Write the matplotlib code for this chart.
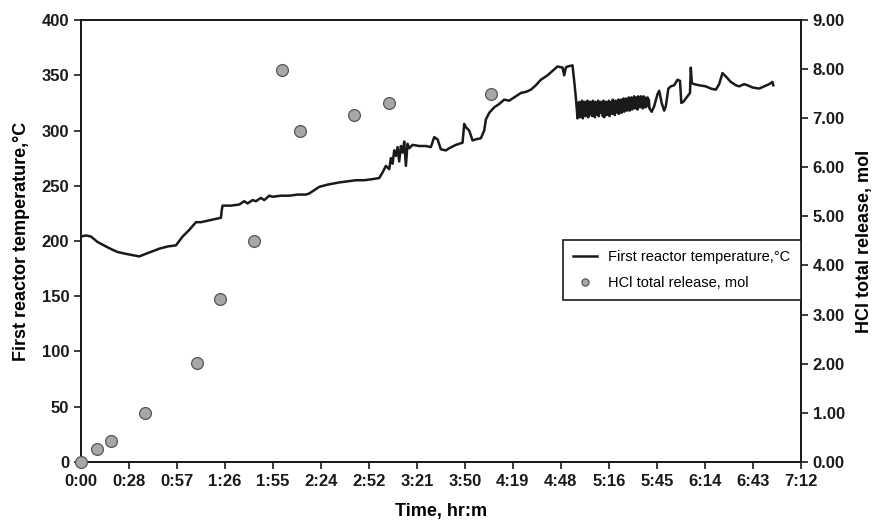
import matplotlib
matplotlib.use("Agg")
import matplotlib.pyplot as plt
import numpy as np

plt.rcParams['font.family'] = ['Liberation Sans', 'DejaVu Sans']

# reactor temperature before the drop, time in minutes
rise_time = [0, 3, 6, 10, 15, 19, 22, 28, 35, 40, 47, 52, 57, 61, 65, 69, 72, 78, 84, 84.5,
             85, 90, 95, 98, 100, 103, 105, 108, 110, 113, 115, 120, 125, 130, 135, 137, 140,
             143, 148, 155, 160, 165, 170, 175, 179,
             181, 183, 185, 186, 187, 188, 189, 190, 191, 192, 193, 194, 195, 196, 197, 199,
             203, 207, 210, 212, 214, 216, 219, 221, 225, 229, 230, 231, 233, 235, 237, 240,
             242, 243, 245, 248, 251, 254, 257, 261, 264, 267, 270, 273, 276, 280, 283, 286,
             289, 290, 291, 292, 295, 296, 297]
rise_temp = [204, 205, 204, 199, 195, 192, 190, 188, 186, 189, 193, 195, 196, 204, 210, 217, 217,
             219, 221, 228, 232, 232, 233, 236, 234, 237, 236, 239, 237, 241, 240, 241, 241, 242,
             242, 243, 246, 249, 251, 253, 254, 255, 255, 256, 257,
             262, 268, 265, 275, 270, 282, 277, 285, 272, 286, 280, 290, 268, 288, 284, 287, 286,
             286, 285, 294, 292, 283, 282, 284, 287, 289, 306, 303, 300, 291, 292, 293, 300, 310,
             316, 321, 324, 328, 327, 331, 334, 335, 337, 341, 346, 350, 354, 358, 357, 350, 357,
             358, 359, 345, 330]

# noisy stretch after the drop
band_time = [298.0, 298.4, 298.8, 299.2, 299.6, 300.0, 300.4, 300.8, 301.2, 301.6, 302.0,
             302.4, 302.8, 303.2, 303.6, 304.0, 304.4, 304.8, 305.2, 305.6, 306.0, 306.4,
             306.8, 307.2, 307.6, 308.0, 308.4, 308.8, 309.2, 309.6, 310.0, 310.4, 310.8,
             311.2, 311.6, 312.0, 312.4, 312.8, 313.2, 313.6, 314.0, 314.4, 314.8, 315.2,
             315.6, 316.0, 316.4, 316.8, 317.2, 317.6, 318.0, 318.4, 318.8, 319.2, 319.6,
             320.0, 320.4, 320.8, 321.2, 321.6, 322.0, 322.4, 322.8, 323.2, 323.6, 324.0,
             324.4, 324.8, 325.2, 325.6, 326.0, 326.4, 326.8, 327.2, 327.6, 328.0, 328.4,
             328.8, 329.2, 329.6, 330.0, 330.4, 330.8, 331.2, 331.6, 332.0, 332.4, 332.8,
             333.2, 333.6, 334.0, 334.4, 334.8, 335.2, 335.6, 336.0, 336.4, 336.8, 337.2,
             337.6, 338.0, 338.4, 338.8, 339.2, 339.6, 340.0, 340.4, 340.8, 341.2]
band_temp = [311, 325, 313, 326, 312, 324, 314, 327, 311, 325, 315, 326, 313, 324, 316, 327,
             312, 325, 314, 326, 316, 323, 313, 327, 315, 325, 312, 326, 317, 324, 314, 327,
             313, 325, 316, 326, 318, 324, 313, 327, 312, 325, 316, 326, 314, 324, 317, 327,
             313, 325, 316, 326, 315, 328, 317, 325, 314, 327, 318, 326, 316, 328, 315, 326,
             318, 328, 316, 327, 319, 329, 317, 327, 320, 329, 318, 328, 320, 330, 318, 327,
             321, 330, 319, 329, 321, 331, 320, 329, 322, 330, 319, 331, 322, 329, 321, 331,
             323, 330, 320, 331, 324, 330, 321, 329, 323, 330, 322, 328, 320]

# last part of the run
tail_time = [342.5, 344, 346, 347, 348.5, 350, 351, 352.5, 354, 356, 358, 359.5, 360.3,
             361.5, 363.5, 365.5, 366, 366.6, 368, 371, 375, 378, 381, 383, 385, 387, 390,
             393, 395, 398, 400, 403, 407, 410, 413, 415, 415.5]
tail_temp = [317, 322, 333, 336, 325, 318, 322, 338, 340, 341, 346, 345, 325,
             326, 330, 334, 357, 343, 342, 341, 340, 338, 337, 342, 352, 349, 344,
             341, 340, 342, 341, 339, 338, 340, 342, 344, 341]

# HCl total release, time in minutes
hcl_time = [0, 9.8, 18, 38.3, 69.7, 83.3, 103.9, 120.8, 131.2, 163.8, 185.1, 246]
hcl_mol = [0, 0.27, 0.43, 0.99, 2.02, 3.32, 4.49, 7.98, 6.74, 7.07, 7.32, 7.49]

tick_labels = ['0:00', '0:28', '0:57', '1:26', '1:55', '2:24', '2:52', '3:21', '3:50',
               '4:19', '4:48', '5:16', '5:45', '6:14', '6:43', '7:12']

temp_time = rise_time + band_time + tail_time
temp_c = rise_temp + band_temp + tail_temp

fig = plt.figure(figsize=(8.8, 5.29), dpi=100)
ax = fig.add_axes([0.092, 0.127, 0.818, 0.835])
ax2 = ax.twinx()

l1, = ax.plot(temp_time, temp_c, color='#1a1a1a', linewidth=1.8,
              label='First reactor temperature,\u00b0C')
l2, = ax2.plot(hcl_time, hcl_mol, linestyle='none', marker='o', markersize=8.5,
               markerfacecolor='#a6a8a6', markeredgecolor='#555555', markeredgewidth=0.9,
               label='HCl total release, mol', clip_on=False, zorder=5)

ax.set_xlim(0, 432)
ax.set_ylim(0, 400)
ax2.set_ylim(0, 9)
ax.set_xticks(np.arange(len(tick_labels)) * 28.8)
ax.set_xticklabels(tick_labels)
ax.set_yticks(np.arange(0, 401, 50))
ax2.set_yticks(np.arange(0, 10, 1))
ax2.set_yticklabels(['%.2f' % v for v in np.arange(0, 10, 1)])

for a in (ax, ax2):
    a.tick_params(direction='out', length=5, width=1.2, labelsize=12, colors='#1a1a1a')
    for lab in a.get_xticklabels() + a.get_yticklabels():
        lab.set_fontweight('bold')
    for sp in a.spines.values():
        sp.set_linewidth(1.3)
        sp.set_color('#1a1a1a')

ax.set_xlabel('Time, hr:m', fontsize=13, fontweight='bold', labelpad=10)
ax.set_ylabel('First reactor temperature,\u00b0C', fontsize=13, fontweight='bold', labelpad=8)
ax2.set_ylabel('HCl total release, mol', fontsize=13, fontweight='bold', labelpad=8)

leg = ax2.legend(handles=[l1, l2], loc='upper right', bbox_to_anchor=(1.0, 0.502),
                 borderaxespad=0, fontsize=10.5, frameon=True, fancybox=False,
                 handlelength=1.6, handletextpad=0.8, markerscale=0.6,
                 labelspacing=0.8, borderpad=0.7)
leg.get_frame().set_edgecolor('#1a1a1a')
leg.get_frame().set_linewidth(1.2)
leg.get_frame().set_alpha(1)

plt.savefig('out.png', dpi=100)
